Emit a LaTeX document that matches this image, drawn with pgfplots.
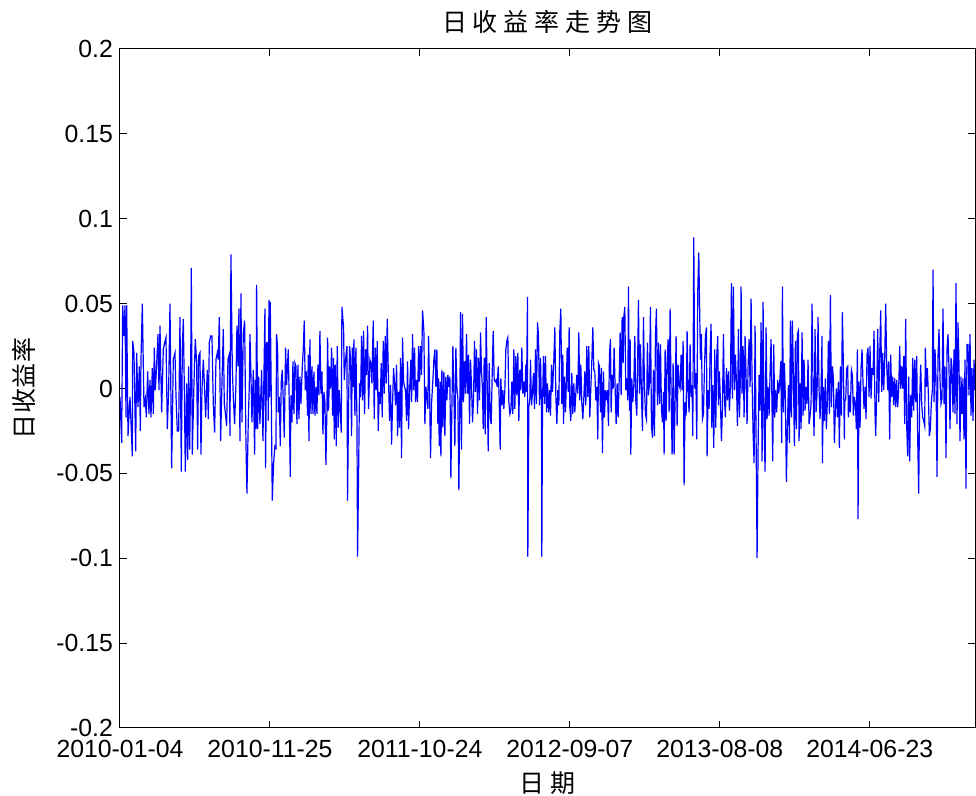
\documentclass[border=0pt]{standalone}
\usepackage{pgfplots}
\pgfplotsset{compat=1.18}
\usepackage{fontspec}
\setmainfont{Liberation Sans}
\newfontfamily\cjk{Noto Sans CJK SC}
\begin{document}
\begin{tikzpicture}
\begin{axis}[
  width=427.5pt, height=339.5pt, scale only axis,
  xmin=0, xmax=2566, ymin=-0.2, ymax=0.2,
  xtick={0,450,900,1350,1800,2250},
  xticklabels={2010-01-04,2010-11-25,2011-10-24,2012-09-07,2013-08-08,2014-06-23},
  ytick={-0.2,-0.15,-0.1,-0.05,0,0.05,0.1,0.15,0.2},
  yticklabels={-0.2,-0.15,-0.1,-0.05,0,0.05,0.1,0.15,0.2},
  tick align=inside, major tick length=3.5pt,
  tick style={black, line width=0.5pt},
  axis line style={black, line width=0.5pt},
  tick label style={font=\fontsize{12.4}{14}\selectfont, black},
  xticklabel style={yshift=-2.5pt},
  xlabel={日\hspace{3.5pt}期},
  xlabel style={font=\cjk\fontsize{12.5}{14}\selectfont, at={(axis description cs:0.5,-0.081)}, anchor=center},
  ylabel={日\hspace{0.3pt}收\hspace{0.3pt}益\hspace{0.3pt}率},
  ylabel style={font=\cjk\fontsize{12.5}{14}\selectfont, at={(axis description cs:-0.1123,0.5)}, anchor=center, rotate=0},
]
\addplot[color={rgb,255:red,0;green,0;blue,255}, line width=0.6pt, mark=none] coordinates {
(0,-0.005) (5,-0.032) (8,0.049) (12,0.031) (15,0.049) (18,-0.017) (20,0.049) (24,-0.028) (30,-0.005) (37,-0.040) (38,0.028) (42,0.021) (47,-0.037) (50,0.021) (54,-0.011) (58,0.013) (61,-0.025) (63,0.017) (67,0.050) (72,-0.011) (76,-0.006) (79,-0.017) (83,0.010) (87,-0.015) (90,0.005) (93,-0.017) (97,0.012) (100,-0.015) (103,0.024) (106,-0.001) (110,0.014) (114,0.032) (117,-0.001) (120,0.037) (125,-0.014) (130,0.023) (134,0.027) (138,0.030) (142,-0.024) (146,-0.001) (150,0.050) (155,-0.047) (160,0.017) (165,0.021) (168,-0.004) (172,-0.025) (176,-0.025) (180,0.042) (184,-0.049) (187,0.023) (190,0.041) (193,0.001) (196,-0.049) (200,0.003) (203,-0.042) (206,0.013) (209,-0.036) (212,0.005) (214,0.071) (217,-0.039) (222,0.003) (226,0.029) (230,0.015) (233,-0.036) (236,0.019) (240,0.021) (243,-0.039) (246,-0.001) (250,0.017) (254,-0.001) (257,-0.017) (262,0.011) (265,-0.018) (268,0.027) (272,0.031) (276,0.031) (280,-0.009) (284,-0.026) (288,0.017) (292,0.021) (295,0.017) (298,0.042) (302,-0.031) (306,0.003) (310,0.035) (313,-0.009) (316,-0.014) (320,-0.022) (324,0.017) (328,0.020) (330,-0.028) (333,0.079) (337,0.013) (340,-0.005) (344,-0.021) (348,0.003) (351,0.037) (354,0.013) (357,0.047) (360,-0.031) (363,0.056) (366,-0.020) (370,0.032) (374,0.040) (378,-0.032) (381,-0.062) (385,-0.019) (388,0.001) (390,0.032) (393,0.008) (396,-0.020) (400,0.011) (404,-0.039) (406,0.005) (408,-0.024) (410,0.061) (413,-0.024) (416,0.007) (420,-0.021) (425,0.011) (429,-0.031)
(435,0.047) (437,-0.047) (440,0.027) (443,0.027) (445,-0.019) (447,0.052) (449,-0.005) (451,0.051) (454,-0.005) (457,-0.066) (461,-0.044) (465,-0.034) (468,-0.035) (470,0.032) (473,0.023) (475,-0.014) (478,-0.005) (481,-0.034) (484,0.004) (487,0.011) (490,-0.007) (493,-0.029) (497,0.024) (500,0.002) (505,0.023) (508,-0.009) (511,-0.052) (513,-0.004) (516,-0.020) (519,0.016) (522,-0.015) (525,0.015) (528,0.013) (531,-0.021) (534,0.014) (537,-0.018) (540,0.007) (543,-0.009) (547,0.012) (550,0.023) (553,0.040) (556,-0.001) (559,0.010) (563,-0.016) (565,0.020) (567,-0.031) (570,0.029) (573,-0.015) (576,0.013) (579,-0.015) (582,0.010) (585,-0.016) (588,0.001) (591,-0.015) (594,0.014) (597,-0.004) (600,0.034) (603,-0.003) (606,0.010) (609,-0.027) (612,-0.002) (615,-0.008) (618,-0.045) (621,-0.013) (623,0.030) (626,-0.013) (629,0.013) (632,0.000) (635,0.024) (638,-0.016) (641,0.018) (643,-0.030) (646,0.014) (649,-0.034) (652,0.025) (655,-0.023) (658,-0.001) (662,-0.017) (664,-0.026) (666,0.048) (671,0.036) (673,0.005) (677,0.017) (681,0.025) (683,-0.066) (686,-0.008) (689,0.025) (692,0.017) (695,-0.028) (697,0.024) (700,0.001) (702,0.029) (705,-0.016) (708,0.024) (711,-0.016) (713,-0.099) (716,-0.051) (719,0.003) (722,-0.005) (725,0.031) (728,-0.007) (731,0.034) (734,-0.015) (737,0.023) (740,0.008) (743,0.037) (746,-0.012) (750,0.017) (753,0.015) (756,0.003) (760,0.040) (763,-0.018) (766,0.024) (769,-0.001) (772,0.028) (775,-0.025) (778,-0.002) (781,-0.009) (784,0.015) (787,-0.017) (790,0.028) (793,-0.003) (796,0.031) (799,0.003) (802,0.041) (805,0.012) (809,-0.019) (812,0.002) (815,-0.033) (818,-0.009) (821,0.012) (824,0.003) (827,-0.010) (830,0.014) (833,-0.028) (836,-0.002) (839,-0.023) (842,0.018) (845,-0.041) (848,0.030) (851,0.004) (854,0.001) (857,-0.001) (860,-0.019) (863,0.016) (866,-0.024)
(870,0.003) (873,0.017) (875,-0.008) (878,0.032) (881,-0.001) (884,0.024) (887,-0.008) (890,0.005) (893,-0.008) (896,0.025) (899,0.004) (902,0.025) (905,0.008) (908,0.046) (912,0.034) (915,-0.021) (918,0.001) (921,-0.005) (924,-0.012) (926,0.031) (929,0.001) (932,-0.041) (935,-0.009) (939,0.005) (942,0.017) (945,0.023) (948,0.001) (951,0.023) (954,-0.021) (956,0.006) (958,-0.034) (961,0.004) (963,-0.040) (966,0.011) (969,-0.023) (972,0.010) (975,-0.028) (978,0.007) (981,-0.007) (984,0.008) (987,0.001) (990,0.007) (993,-0.053) (996,-0.012) (999,0.025) (1002,-0.003) (1005,-0.034) (1008,0.024) (1011,0.001) (1014,-0.006) (1017,-0.060) (1020,-0.005) (1022,0.045) (1025,-0.036) (1028,0.044) (1031,-0.008) (1034,0.016) (1037,-0.003) (1040,0.032) (1043,-0.003) (1046,0.020) (1049,-0.021) (1052,0.017) (1055,0.001) (1058,-0.020) (1061,-0.006) (1064,0.028) (1067,-0.002) (1070,0.023) (1073,-0.015) (1076,0.018) (1079,-0.007) (1082,0.033) (1085,0.010) (1088,-0.001) (1090,-0.024) (1093,0.018) (1096,-0.027) (1099,0.042) (1102,0.003) (1105,-0.037) (1108,0.015) (1111,-0.017) (1114,-0.021) (1117,0.008) (1120,0.034) (1123,0.005) (1126,0.004) (1129,0.005) (1132,0.001) (1135,0.013) (1138,-0.006) (1141,-0.036) (1143,0.006) (1146,-0.010) (1149,-0.001) (1152,-0.012) (1155,-0.001) (1158,0.023) (1161,0.028) (1164,0.030) (1167,-0.008) (1170,-0.015) (1173,-0.013) (1176,0.004) (1179,-0.015) (1182,0.023) (1185,-0.012) (1188,0.019) (1191,-0.004) (1194,0.021) (1197,-0.019) (1200,0.011) (1203,-0.001) (1206,0.024) (1209,-0.003) (1212,0.004) (1215,-0.005) (1218,0.014) (1220,-0.002) (1223,0.054) (1224,-0.099) (1227,-0.011) (1230,-0.006) (1232,0.017) (1235,-0.010) (1238,-0.002) (1241,0.009) (1244,-0.012) (1247,0.023) (1250,-0.009) (1253,0.039) (1256,0.031) (1259,-0.010) (1262,0.018) (1265,-0.011) (1266,-0.099) (1268,-0.009) (1271,0.019) (1274,-0.009) (1277,0.019) (1280,-0.014) (1283,0.003) (1286,-0.014) (1289,-0.001) (1292,-0.016) (1295,0.014) (1298,-0.002) (1302,0.017)
(1305,0.036) (1308,-0.004) (1311,-0.021) (1314,-0.001) (1317,-0.010) (1320,0.034) (1323,0.047) (1326,-0.009) (1329,0.020) (1331,-0.021) (1334,0.007) (1337,-0.014) (1340,0.006) (1342,0.024) (1345,-0.002) (1348,0.036) (1350,-0.011) (1353,-0.019) (1356,0.009) (1359,-0.015) (1362,0.003) (1365,-0.014) (1368,-0.003) (1371,0.008) (1374,-0.003) (1377,0.033) (1380,-0.007) (1383,0.014) (1386,-0.008) (1389,-0.018) (1392,-0.006) (1395,0.010) (1398,-0.010) (1401,0.025) (1404,-0.005) (1407,0.025) (1410,-0.017) (1413,0.000) (1416,0.016) (1419,0.036) (1422,0.011) (1425,0.010) (1428,-0.007) (1431,0.001) (1434,-0.030) (1436,0.015) (1439,0.013) (1442,-0.014) (1445,0.012) (1448,-0.038) (1451,0.010) (1454,-0.017) (1457,-0.001) (1460,-0.007) (1463,-0.001) (1466,-0.022) (1469,0.020) (1472,0.029) (1474,-0.014) (1477,0.008) (1480,0.000) (1483,0.024) (1486,0.000) (1489,-0.021) (1492,0.003) (1495,-0.017) (1498,0.004) (1501,0.033) (1504,-0.004) (1507,0.042) (1510,0.015) (1512,0.042) (1515,0.048) (1518,-0.001) (1521,0.006) (1524,-0.007) (1526,0.060) (1529,-0.013) (1531,0.029) (1533,-0.039) (1536,0.006) (1539,-0.008) (1542,0.001) (1545,0.031) (1548,-0.007) (1551,-0.016) (1554,0.023) (1556,0.052) (1559,-0.003) (1562,0.026) (1565,-0.004) (1568,-0.025) (1571,0.042) (1574,0.001) (1577,-0.015) (1580,-0.018) (1583,0.027) (1586,-0.004) (1589,0.003) (1592,0.048) (1595,-0.022) (1598,-0.029) (1601,0.011) (1604,-0.028) (1607,0.031) (1610,0.047) (1613,-0.010) (1616,0.027) (1619,-0.009) (1622,0.026) (1625,-0.012) (1628,-0.020) (1631,-0.002) (1633,-0.039) (1636,0.023) (1639,-0.019) (1642,0.016) (1645,0.029) (1648,-0.014) (1651,0.047) (1654,-0.005) (1657,-0.039) (1660,0.015) (1663,-0.039) (1666,-0.007) (1669,0.031) (1672,-0.022) (1675,0.014) (1678,0.002) (1681,0.000) (1684,0.020) (1687,-0.001) (1690,0.028) (1693,-0.057) (1696,-0.008) (1699,-0.016) (1702,0.034) (1705,-0.003) (1708,-0.014) (1711,0.026) (1714,-0.005) (1717,0.002) (1719,-0.028) (1722,0.089) (1725,0.000) (1728,0.009) (1731,-0.030) (1734,0.058) (1737,0.080)
(1742,0.017) (1745,0.032) (1748,-0.018) (1751,-0.015) (1754,0.011) (1757,0.031) (1760,0.036) (1762,-0.040) (1765,-0.001) (1768,-0.012) (1771,0.021) (1774,0.038) (1776,-0.023) (1779,0.002) (1782,-0.035) (1785,0.023) (1788,-0.023) (1791,0.019) (1794,0.031) (1796,-0.010) (1799,0.010) (1802,-0.008) (1805,-0.031) (1808,-0.012) (1811,0.032) (1814,-0.006) (1817,-0.017) (1820,0.012) (1823,-0.007) (1826,0.010) (1829,-0.013) (1832,0.001) (1835,0.062) (1838,-0.006) (1841,0.060) (1844,-0.001) (1847,0.020) (1850,0.004) (1853,-0.022) (1856,0.035) (1859,-0.017) (1862,0.007) (1864,0.060) (1867,-0.003) (1870,0.025) (1873,-0.017) (1876,0.031) (1879,0.007) (1882,-0.021) (1885,0.013) (1888,0.029) (1891,0.001) (1894,0.053) (1897,0.005) (1900,-0.026) (1903,-0.044) (1906,0.037) (1909,-0.028) (1912,-0.100) (1915,-0.036) (1918,0.008) (1921,-0.013) (1924,0.039) (1927,-0.043) (1930,0.051) (1933,-0.023) (1936,-0.049) (1939,0.036) (1942,-0.018) (1945,0.001) (1948,-0.016) (1951,0.009) (1954,0.029) (1957,-0.013) (1959,-0.043) (1962,0.026) (1965,-0.017) (1968,-0.001) (1971,-0.014) (1974,0.005) (1977,-0.003) (1980,0.004) (1983,0.016) (1986,-0.032) (1988,0.060) (1991,-0.014) (1994,0.015) (1997,-0.007) (2000,-0.055) (2003,-0.022) (2006,0.002) (2009,-0.032) (2012,0.040) (2015,-0.017) (2018,0.040) (2021,0.007) (2024,-0.034) (2027,0.028) (2030,-0.024) (2033,0.032) (2036,0.034) (2038,-0.031) (2041,0.003) (2044,-0.024) (2047,0.033) (2050,-0.016) (2053,0.017) (2056,-0.013) (2059,0.001) (2062,-0.009) (2065,0.017) (2068,-0.021) (2071,-0.016) (2074,-0.009) (2077,0.050) (2080,-0.001) (2083,-0.028) (2086,0.035) (2089,-0.014) (2092,-0.003) (2095,0.042) (2098,-0.001) (2101,-0.018) (2104,0.000) (2107,0.031) (2108,-0.044) (2111,0.001) (2114,-0.019) (2117,0.006) (2120,-0.024) (2123,-0.007) (2126,0.028) (2129,-0.015) (2132,0.055) (2135,-0.011) (2138,0.013) (2141,0.006) (2144,-0.032) (2147,-0.012) (2150,0.000) (2153,-0.017) (2156,0.004) (2159,-0.035) (2162,0.013) (2165,-0.016) (2168,0.045) (2171,0.013) (2174,-0.030)
(2175,-0.008) (2178,-0.006) (2181,0.012) (2184,0.013) (2186,-0.017) (2189,-0.004) (2192,-0.014) (2195,0.011) (2198,0.008) (2201,-0.016) (2204,-0.005) (2207,-0.009) (2210,-0.024) (2213,0.023) (2215,-0.077) (2218,0.004) (2221,-0.023) (2224,0.012) (2227,0.023) (2230,0.003) (2233,-0.012) (2236,0.001) (2239,-0.018) (2242,0.020) (2245,0.024) (2248,-0.005) (2251,0.025) (2254,-0.006) (2257,0.012) (2260,0.008) (2263,0.034) (2266,-0.015) (2268,-0.028) (2271,-0.001) (2274,0.035) (2277,-0.008) (2280,0.020) (2283,0.046) (2286,-0.002) (2289,0.021) (2292,-0.001) (2295,0.017) (2298,0.050) (2301,0.014) (2304,-0.001) (2307,0.016) (2310,-0.030) (2313,0.020) (2316,-0.005) (2319,0.007) (2322,-0.010) (2325,0.006) (2328,-0.011) (2331,0.005) (2334,-0.011) (2337,0.000) (2340,0.025) (2343,0.000) (2346,0.013) (2349,0.000) (2352,0.019) (2355,-0.021) (2358,0.041) (2361,-0.022) (2364,-0.040) (2367,0.007) (2370,-0.043) (2373,-0.004) (2376,-0.017) (2379,0.018) (2382,-0.013) (2385,0.017) (2388,-0.008) (2391,0.019) (2394,-0.029) (2397,-0.062) (2400,-0.006) (2403,0.014) (2406,-0.009) (2409,-0.017) (2412,-0.019) (2415,-0.022) (2417,0.024) (2420,0.001) (2423,0.012) (2426,-0.003) (2429,-0.028) (2432,-0.024) (2435,-0.008) (2438,-0.001) (2440,0.070) (2443,-0.008) (2446,0.023) (2449,0.006) (2452,-0.052) (2455,0.019) (2458,0.035) (2461,0.005) (2464,-0.009) (2467,-0.006) (2470,0.047) (2473,-0.009) (2476,0.013) (2479,-0.041) (2482,0.023) (2485,0.032) (2488,0.012) (2491,-0.024) (2494,0.018) (2497,0.012) (2500,-0.014) (2503,0.023) (2506,-0.015) (2509,0.062) (2512,-0.021) (2515,0.039) (2518,0.014) (2521,-0.031) (2524,0.007) (2527,-0.015) (2530,0.006) (2533,-0.030) (2536,0.017) (2539,-0.059) (2542,0.026) (2545,0.026) (2548,-0.004) (2551,0.032) (2554,-0.016) (2557,0.012) (2560,-0.019) (2563,0.017) (2566,-0.001)
};
\end{axis}
\node[font=\cjk\fontsize{12.5}{14}\selectfont, anchor=center] at ([yshift=13.75pt]current axis.north) {日\hspace{3pt}收\hspace{3pt}益\hspace{3pt}率\hspace{3pt}走\hspace{3pt}势\hspace{3pt}图};
\pgfresetboundingbox
\useasboundingbox ([shift={(-60pt,-34pt)}]current axis.south west) rectangle ([shift={(0.5pt,24.5pt)}]current axis.north east);
\end{tikzpicture}
\end{document}
